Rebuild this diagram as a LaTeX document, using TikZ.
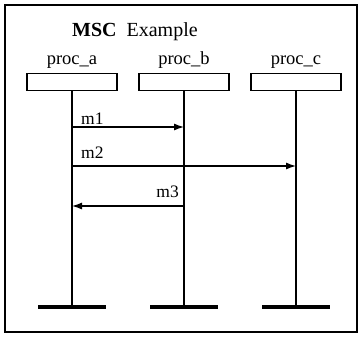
\documentclass[tikz,border=0pt]{standalone}
\usepackage{fontspec}
\setmainfont{Liberation Serif}
\usetikzlibrary{arrows.meta,positioning}

\tikzset{
  inst/.style={draw, line width=1.2pt, minimum width=90pt, minimum height=17pt, inner sep=0pt},
  msg/.style={line width=1.2pt, -{Latex[length=10pt,width=7pt]}},
  lbl/.style={inner sep=0pt, font=\fontsize{17.5}{20}\selectfont},
}

\begin{document}
\begin{tikzpicture}[x=1pt,y=-1pt,font=\fontsize{18.5}{22}\selectfont]
\useasboundingbox (0,0) rectangle (361,337);
\draw[line width=1.6pt] (5,5) rectangle (357,332);
\node[anchor=base west,inner sep=0pt,font=\fontsize{20}{24}\selectfont] (title) at (72,37) {\textbf{MSC}\ \ Example};
%\foreach \p in {a,b,c}
\foreach \p/\x in {a/72, b/184, c/296} {
  \node[inst] (box\p) at (\x,82) {};
  \node[anchor=base,inner sep=0pt] (name\p) at (\x,64) {proc\_\p};
  \coordinate (end\p) at (\x,307);
  \draw[line width=1.2pt] (box\p) -- (end\p);
  \draw[line width=4pt] ([xshift=-34pt]end\p) -- ([xshift=34pt]end\p);
}
\coordinate (a1) at (72,127);
\coordinate (b1) at (184,127);
\coordinate (a2) at (72,166);
\coordinate (c2) at (296,166);
\coordinate (b3) at (184,206);
\coordinate (a3) at (72,206);
\draw[msg] (a1) -- (b1);
\draw[msg] (a2) -- (c2);
\draw[msg] (b3) -- (a3);
\node[lbl,anchor=base west] (m1) at (81,124) {m1};
\node[lbl,anchor=base west] (m2) at (81,158) {m2};
\node[lbl,anchor=base east] (m3) at (179,197) {m3};
\end{tikzpicture}
\end{document}
